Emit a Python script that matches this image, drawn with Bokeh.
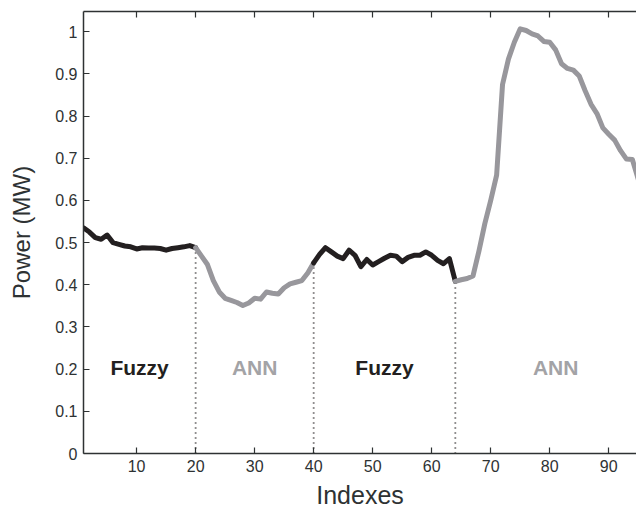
from bokeh.plotting import figure
from bokeh.models import Range1d, LinearAxis, FixedTicker, ColumnDataSource
from bokeh.core.properties import value
from bokeh.embed import file_html
from bokeh.resources import INLINE

index = list(range(1, 96))
power = [
    0.535, 0.525, 0.512, 0.508, 0.518, 0.500, 0.496, 0.492, 0.490, 0.485,
    0.488, 0.487, 0.487, 0.486, 0.482, 0.486, 0.488, 0.490, 0.493, 0.488,
    0.468, 0.448, 0.410, 0.383, 0.368, 0.363, 0.358, 0.351, 0.357, 0.368,
    0.366, 0.383, 0.380, 0.378, 0.393, 0.402, 0.406, 0.410, 0.428, 0.452,
    0.472, 0.488, 0.478, 0.468, 0.462, 0.482, 0.470, 0.443, 0.460, 0.447,
    0.455, 0.463, 0.470, 0.468, 0.455, 0.465, 0.470, 0.470, 0.478, 0.470,
    0.458, 0.450, 0.462, 0.408, 0.412, 0.415, 0.421, 0.480, 0.545, 0.600,
    0.660, 0.875, 0.935, 0.975, 1.007, 1.003, 0.995, 0.990, 0.977, 0.975,
    0.957, 0.924, 0.913, 0.909, 0.895, 0.860, 0.828, 0.806, 0.772, 0.757,
    0.743, 0.718, 0.698, 0.697, 0.650,
]
boundaries = [20, 40, 64]
segment_names = ["Fuzzy", "ANN", "Fuzzy", "ANN"]
label_x = [10.5, 30, 52, 81]
label_y = [0.205, 0.205, 0.205, 0.205]
x_ticks = [10, 20, 30, 40, 50, 60, 70, 80, 90]
y_ticks = [0, 0.1, 0.2, 0.3, 0.4, 0.5, 0.6, 0.7, 0.8, 0.9, 1.0]

BLACK = "#231f20"
GRAY = "#98979c"
AXC = "#2e3233"
FONT = "Liberation Sans"

p = figure(frame_width=553, frame_height=442, output_backend="svg",
           toolbar_location=None, x_axis_location=None, y_axis_location=None,
           x_range=Range1d(1, 94.7), y_range=Range1d(0, 1.048),
           min_border_left=83, min_border_right=0, min_border_top=11,
           min_border_bottom=63)
p.outline_line_color = None
p.grid.visible = False
p.background_fill_color = "white"

def style_axis(ax, ticks):
    ax.ticker = FixedTicker(ticks=ticks)
    ax.major_tick_in = 6
    ax.major_tick_out = 0
    ax.minor_tick_line_color = None
    ax.axis_line_color = AXC
    ax.axis_line_width = 1.5
    ax.major_tick_line_color = AXC
    ax.major_tick_line_width = 1.2
    ax.major_label_text_font = FONT
    ax.major_label_text_font_size = "16px"
    ax.major_label_text_color = AXC
    ax.axis_label_text_font = FONT
    ax.axis_label_text_font_style = "normal"
    ax.axis_label_text_color = AXC

xa = LinearAxis(axis_label="Indexes")
style_axis(xa, x_ticks)
xa.major_label_standoff = 6
xa.axis_label_text_font_size = "25px"
xa.axis_label_standoff = 6
p.add_layout(xa, "below")

ya = LinearAxis(axis_label="Power (MW)")
style_axis(ya, y_ticks)
ya.major_label_standoff = 6
ya.axis_label_text_font_size = "24px"
ya.axis_label_standoff = 17
ya.major_label_overrides = {1.0: "1", 0: "0"}
p.add_layout(ya, "left")

ta = LinearAxis()
style_axis(ta, x_ticks)
ta.major_label_overrides = {t: "" for t in x_ticks}
ta.major_label_standoff = 0
p.add_layout(ta, "above")

# vertical dotted separators
p.segment(x0=boundaries, y0=[0] * len(boundaries), x1=boundaries,
          y1=[power[b - 1] for b in boundaries],
          line_color=BLACK, line_width=1.8, line_dash="1 4")

# segments
edges = [1] + boundaries + [index[-1]]
for i, name in enumerate(segment_names):
    a, b = edges[i], edges[i + 1]
    xs = index[a - 1:b]
    ys = power[a - 1:b]
    color = BLACK if name == "Fuzzy" else GRAY
    p.line(xs, ys, line_color=color, line_width=5, line_join="round",
           line_cap="round")

src = ColumnDataSource(dict(x=label_x, y=label_y, t=segment_names,
                            c=[BLACK if n == "Fuzzy" else "#a3a3a6" for n in segment_names]))
p.text(x="x", y="y", text="t", text_color="c", source=src,
       text_font=value(FONT), text_font_style="bold", text_font_size="21px",
       text_align="center", text_baseline="middle")

open("out.html", "w").write(file_html(p, INLINE))
